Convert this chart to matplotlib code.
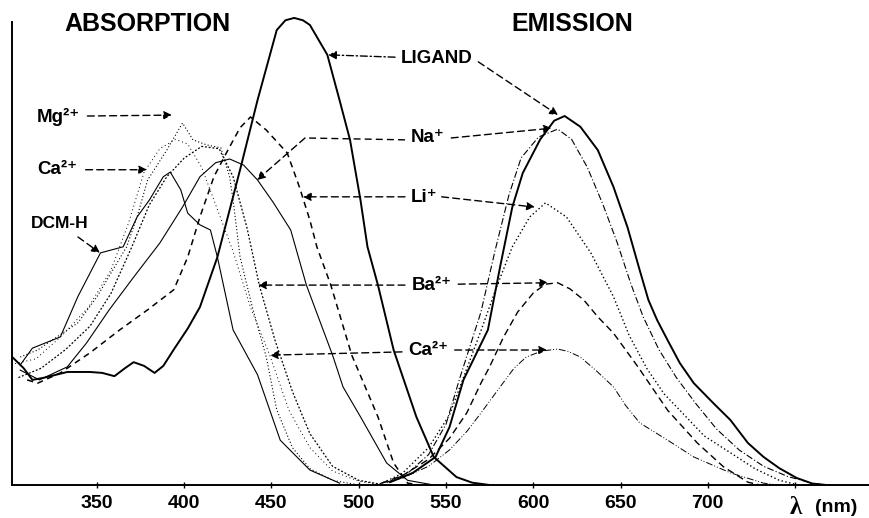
import matplotlib
matplotlib.use("Agg")
import matplotlib.pyplot as plt
from matplotlib.transforms import blended_transform_factory

plt.rcParams['font.family'] = ['Liberation Sans', 'DejaVu Sans']
plt.rcParams['font.weight'] = 'bold'

# --- absorption spectra (wavelength nm, relative intensity) ---
lig_abs_x = [302, 308, 313, 320, 333, 346, 353, 360, 366, 371, 377, 383, 388, 394, 402, 409,
             419, 432, 442, 453, 458, 463, 468, 472, 482, 489, 495, 501, 505, 511, 520, 533,
             543, 556, 565, 575]
lig_abs_y = [27.2, 25.0, 22.5, 23.0, 24.2, 24.2, 24.0, 23.3, 25.0, 26.3, 25.5, 24.0, 25.5, 29.0,
             33.5, 38.1, 48.8, 67.5, 82.4, 97.4, 99.5, 100, 99.5, 98.5, 92.1, 82.4, 73.9, 61.0,
             51.0, 42.8, 28.9, 14.6, 6.0, 1.7, 0.5, 0]

na_abs_x = [306, 317, 333, 344, 357, 371, 386, 399, 409, 418, 426, 434, 442, 451, 461, 470,
            485, 491, 501, 516, 528, 543]
na_abs_y = [24.6, 22.5, 25.3, 30.4, 37.5, 44.5, 51.8, 59.5, 66.0, 69.0, 69.8, 68.5, 65.3, 60.5,
            54.6, 42.8, 27.8, 21.0, 14.6, 4.7, 1.0, 0]

li_abs_x = [310, 316, 329, 346, 363, 379, 394, 402, 409, 417, 425, 432, 438, 447, 459, 466,
            472, 476, 484, 496, 511, 520, 528, 535]
li_abs_y = [22.5, 21.8, 24.0, 28.3, 33.2, 37.5, 41.8, 48.8, 57.4, 66.0, 71.7, 76.5, 78.8, 76.0,
            71.1, 63.8, 56.7, 51.0, 42.8, 27.8, 14.6, 4.7, 0.4, 0]

mg_abs_x = [306, 316, 327, 339, 350, 359, 367, 373, 379, 390, 399, 405, 413, 421, 426, 428,
            432, 439, 447, 453, 462, 472, 485, 500]
mg_abs_y = [27.4, 28.9, 31.7, 34.7, 40.3, 46.0, 51.0, 57.4, 65.3, 71.7, 77.5, 73.9, 72.8, 72.2,
            66.0, 61.0, 48.8, 38.1, 27.4, 16.1, 8.0, 3.5, 1.0, 0]

ca_abs_x = [303, 315, 330, 345, 358, 368, 377, 386, 395, 402, 410, 418, 428, 438, 449, 460,
            472, 485, 500, 515]
ca_abs_y = [26.0, 27.0, 32.0, 38.0, 46.0, 56.0, 67.0, 72.0, 74.0, 73.0, 68.0, 60.0, 50.0, 38.0,
            27.8, 16.0, 8.0, 3.0, 0.8, 0]

ba_abs_x = [305, 318, 332, 346, 358, 370, 380, 390, 400, 410, 420, 428, 436, 443, 452, 462,
            472, 485, 500, 515]
ba_abs_y = [23.0, 25.0, 29.0, 34.0, 41.0, 51.0, 60.0, 66.0, 70.0, 72.5, 72.0, 66.0, 55.0, 42.8,
            31.0, 20.0, 11.0, 4.0, 1.0, 0]

dcm_abs_x = [306, 313, 329, 339, 352, 365, 373, 380, 388, 392, 398, 402, 409, 415, 419, 428,
             442, 455, 472, 489]
dcm_abs_y = [25.7, 29.3, 31.7, 40.3, 49.7, 51.0, 57.4, 61.0, 66.0, 67.0, 63.2, 58.2, 55.7, 54.6,
             48.8, 33.2, 23.6, 9.6, 3.2, 0.4]

# --- emission spectra ---
lig_em_x = [518, 531, 544, 552, 560, 574, 581, 588, 594, 604, 612, 618, 627, 637, 646, 654,
            661, 666, 671, 677, 684, 692, 703, 713, 723, 732, 741, 751, 760, 768]
lig_em_y = [0.6, 2.6, 6.0, 12.4, 22.5, 33.2, 46.7, 59.5, 66.8, 74.0, 78.0, 79.0, 76.7, 71.7,
            63.8, 55.2, 46.0, 39.6, 35.3, 31.0, 26.1, 21.8, 17.6, 13.9, 9.0, 6.0, 3.6, 1.5, 0.3, 0]

na_em_x = [516, 528, 540, 550, 558, 570, 578, 586, 593, 603, 614, 622, 631, 640, 648, 656,
           663, 672, 682, 693, 705, 718, 732, 746, 760, 768]
na_em_y = [0.5, 2.5, 6.5, 13.0, 23.0, 37.0, 50.0, 62.0, 70.0, 74.5, 76.2, 74.0, 68.0, 60.0,
           52.0, 43.0, 36.0, 29.0, 23.0, 17.5, 12.0, 7.5, 4.0, 1.8, 0.4, 0]

li_em_x = [514, 525, 540, 552, 562, 570, 579, 588, 598, 607, 619, 633, 646, 655, 665, 675,
           684, 698, 713, 727, 741, 752]
li_em_y = [0.5, 2.5, 8.0, 15.0, 25.0, 33.0, 42.4, 51.0, 57.4, 60.4, 57.4, 49.7, 40.3, 32.0,
           25.0, 19.5, 16.0, 10.5, 6.9, 3.5, 1.0, 0]

ba_em_x = [513, 525, 540, 552, 562, 570, 575, 583, 591, 600, 607, 614, 621, 629, 637, 646,
           660, 677, 694, 709, 723, 730]
ba_em_y = [0.4, 2.0, 5.5, 10.0, 15.5, 21.8, 25.3, 31.7, 37.0, 41.1, 43.0, 43.3, 42.0, 39.6,
           36.0, 32.5, 25.3, 16.0, 9.0, 3.9, 0.6, 0]

ca_em_x = [512, 525, 540, 552, 562, 570, 581, 589, 596, 605, 614, 620, 627, 636, 646, 653,
           661, 677, 692, 713, 732, 740]
ca_em_y = [0.3, 1.5, 4.0, 7.5, 11.5, 15.4, 21.0, 25.0, 27.4, 28.7, 29.1, 28.6, 27.4, 24.5,
           21.0, 17.0, 13.3, 9.6, 6.0, 2.6, 0.4, 0]

tick_pos = [350, 400, 450, 500, 550, 600, 650, 700, 750]
tick_lab = ['350', '400', '450', '500', '550', '600', '650', '700', '']

fig = plt.figure(figsize=(8.69, 5.18), dpi=100)
ax = fig.add_axes([12 / 869, 33 / 518, 857 / 869, 475 / 518])

k = 'black'
ax.plot(lig_abs_x, lig_abs_y, color=k, lw=1.4)
ax.plot(na_abs_x, na_abs_y, color=k, lw=0.8)
ax.plot(li_abs_x, li_abs_y, color=k, lw=1.1, ls=(0, (4, 3)))
ax.plot(mg_abs_x, mg_abs_y, color=k, lw=0.8, ls=(0, (1, 2)))
ax.plot(ca_abs_x, ca_abs_y, color=k, lw=0.7, ls=(0, (1, 3)))
ax.plot(ba_abs_x, ba_abs_y, color=k, lw=0.9, ls=(0, (1.5, 1.5)))
ax.plot(dcm_abs_x, dcm_abs_y, color=k, lw=0.8)

ax.plot(lig_em_x, lig_em_y, color=k, lw=1.4)
ax.plot(na_em_x, na_em_y, color=k, lw=0.8, ls=(0, (6, 2, 1, 2)))
ax.plot(li_em_x, li_em_y, color=k, lw=1.0, ls=(0, (1, 1.8)))
ax.plot(ba_em_x, ba_em_y, color=k, lw=1.0, ls=(0, (5, 3)))
ax.plot(ca_em_x, ca_em_y, color=k, lw=0.7, ls=(0, (7, 2, 1, 2, 1, 2)))

ax.set_xlim(301.3, 792.4)
ax.set_ylim(0, 101.7)
ax.spines['top'].set_visible(False)
ax.spines['right'].set_visible(False)
ax.spines['left'].set_linewidth(1.4)
ax.spines['bottom'].set_linewidth(1.4)
ax.spines['left'].set_bounds(0, 99.1)
ax.set_yticks([])
ax.set_xticks(tick_pos)
ax.set_xticklabels(tick_lab, fontsize=14, fontweight='bold')
ax.tick_params(axis='x', direction='inout', length=5, width=1, pad=5)

trans = blended_transform_factory(ax.transData, ax.transAxes)
ax.text(750.6, -0.048, 'λ', transform=trans, ha='center', va='center', fontsize=18,
        family='Liberation Serif')
ax.text(773.5, -0.048, '(nm)', transform=trans, ha='center', va='center', fontsize=14,
        fontweight='bold')

ax.text(378.7, 98.7, 'ABSORPTION', ha='center', va='center', fontsize=18, fontweight='bold')
ax.text(622.2, 98.7, 'EMISSION', ha='center', va='center', fontsize=18, fontweight='bold')

lab = dict(ha='center', va='center', fontsize=13.5, fontweight='bold')
ax.text(544.8, 91.4, 'LIGAND', **lab)
ax.text(539.7, 74.3, 'Na⁺', **lab)
ax.text(537.4, 61.5, 'Li⁺', **lab)
ax.text(542.0, 42.8, 'Ba²⁺', **lab)
ax.text(539.7, 28.9, 'Ca²⁺', **lab)
ax.text(327.7, 78.8, 'Mg²⁺', **lab)
ax.text(327.1, 67.5, 'Ca²⁺', **lab)
ax.text(328.8, 55.9, 'DCM-H', ha='center', va='center', fontsize=12.5, fontweight='bold')


def arrow(x0, y0, x1, y1, ls=(0, (5, 3))):
    ax.annotate('', xy=(x1, y1), xytext=(x0, y0),
                arrowprops=dict(arrowstyle='-|>', color=k, lw=1.0, ls=ls,
                                mutation_scale=12, shrinkA=0, shrinkB=0))


arrow(344.5, 79.0, 393.0, 79.2)
arrow(343.5, 67.5, 378.7, 67.5)
arrow(339.1, 53.1, 351.7, 49.7)
arrow(520.8, 91.6, 482.4, 92.1, ls=(0, (5, 2, 1, 2)))
arrow(568.5, 90.6, 614.2, 79.2)
ax.plot([526.5, 469.2], [73.9, 74.3], color=k, lw=1.0, ls=(0, (5, 3)))
arrow(469.2, 74.3, 441.7, 65.3)
arrow(553.0, 74.3, 610.7, 76.4)
arrow(526.5, 61.7, 468.0, 61.7)
arrow(547.5, 61.7, 601.0, 59.5)
arrow(526.5, 42.8, 442.3, 42.8)
arrow(557.0, 43.0, 608.5, 43.3)
arrow(524.8, 28.5, 449.1, 27.8)
arrow(555.0, 28.9, 607.9, 28.9)

fig.savefig('out.png', dpi=100)
